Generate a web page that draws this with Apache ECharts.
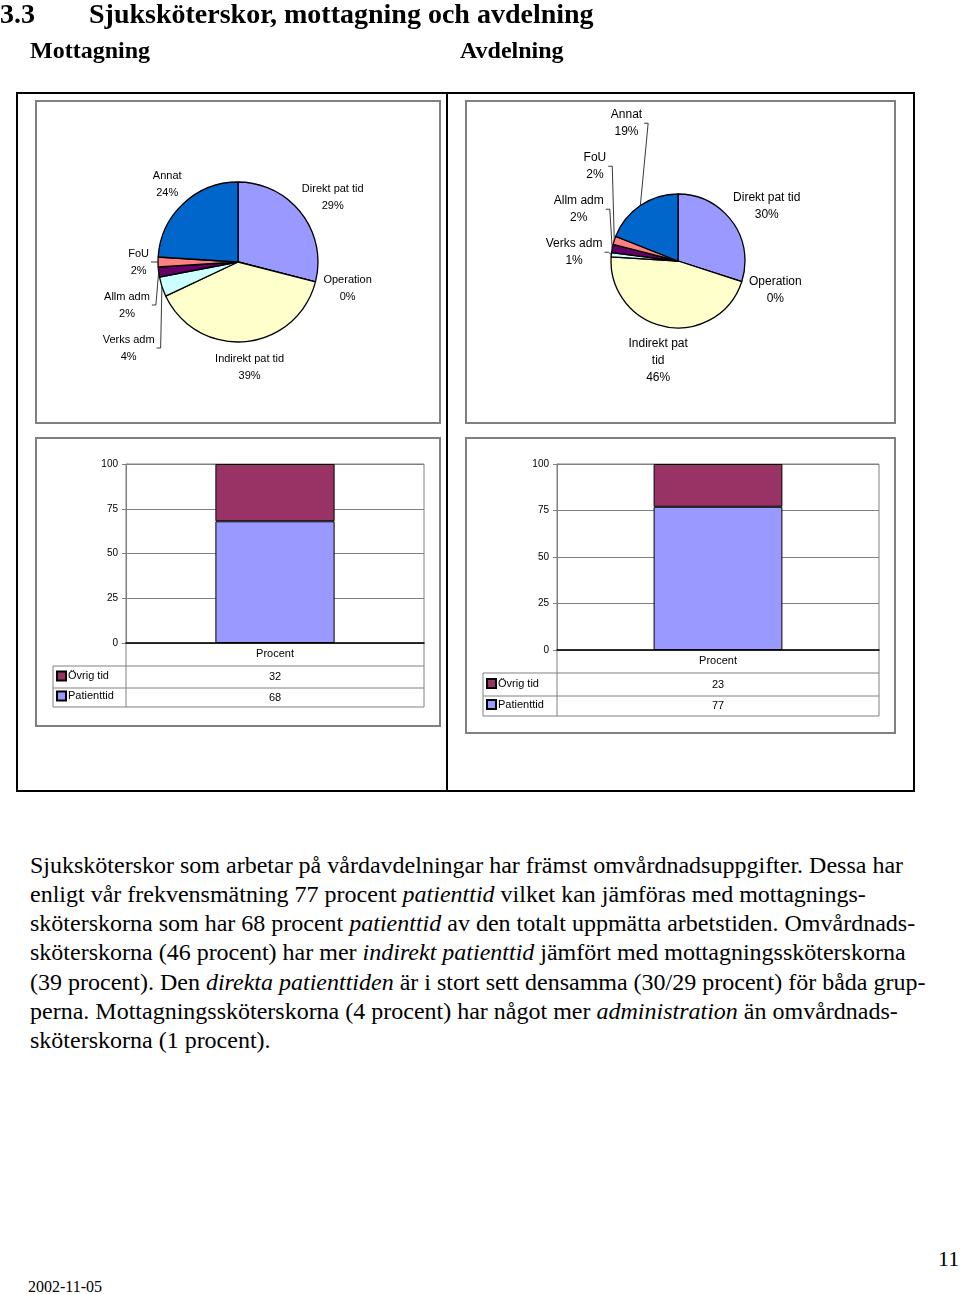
<!DOCTYPE html>
<html>
<head>
<meta charset="utf-8">
<script src="https://cdn.jsdelivr.net/npm/echarts@6/dist/echarts.min.js"></script>
<style>
  html, body { margin:0; padding:0; background:#fff; }
  body { width:960px; height:1294px; position:relative; overflow:hidden; }
  #chart { position:absolute; left:0; top:0; width:960px; height:800px; z-index:1; }
  .t { position:absolute; white-space:nowrap; font-family:'Liberation Serif','Times New Roman',serif; color:#000; line-height:1; z-index:2; transform-origin:0 0; }
  .h1 { font-weight:bold; font-size:28px; }
  .h2 { font-weight:bold; font-size:24px; }
  .p { font-size:24px; }
</style>
</head>
<body>
<div class="t h1" style="left:0;top:0;">3.3</div>
<div class="t h1" style="left:89px;top:0;">Sjuksköterskor, mottagning och avdelning</div>
<div class="t h2" style="left:30px;top:38px;">Mottagning</div>
<div class="t h2" style="left:460px;top:38px;">Avdelning</div>

<div class="t p" style="left:30px;top:853px;">Sjuksköterskor som arbetar på vårdavdelningar har främst omvårdnadsuppgifter. Dessa har</div>
<div class="t p" style="left:30px;top:882px;">enligt vår frekvensmätning 77 procent <i>patienttid</i> vilket kan jämföras med mottagnings-</div>
<div class="t p" style="left:30px;top:911px;">sköterskorna som har 68 procent <i>patienttid</i> av den totalt uppmätta arbetstiden. Omvårdnads-</div>
<div class="t p" style="left:30px;top:940px;">sköterskorna (46 procent) har mer <i>indirekt patienttid</i> jämfört med mottagningssköterskorna</div>
<div class="t p" style="left:30px;top:970px;">(39 procent). Den <i>direkta patienttiden</i> är i stort sett densamma (30/29 procent) för båda grup-</div>
<div class="t p" style="left:30px;top:999px;">perna. Mottagningssköterskorna (4 procent) har något mer <i>administration</i> än omvårdnads-</div>
<div class="t p" style="left:30px;top:1028px;">sköterskorna (1 procent).</div>

<div class="t" style="left:938px;top:1248px;font-size:22px;">11</div>
<div class="t" style="left:28px;top:1279px;font-size:16px;">2002-11-05</div>

<div id="chart"></div>
<script>
// ---------- data ----------
var pieCategories = ['Direkt pat tid', 'Operation', 'Indirekt pat tid', 'Verks adm', 'Allm adm', 'FoU', 'Annat'];
var pieMottagning = [29, 0, 39, 4, 2, 2, 24];
var pieAvdelning  = [30, 0, 46, 1, 2, 2, 19];
var barCategories = ['Procent'];
var barSeriesNames = ['Patienttid', 'Övrig tid'];
var patienttidMottagning = [68];
var ovrigTidMottagning   = [32];
var patienttidAvdelning  = [77];
var ovrigTidAvdelning    = [23];
var yTicks = [0, 25, 50, 75, 100];

// ---------- styles ----------
var pieColors = ['#9999FF', '#993366', '#FFFFCC', '#CCFFFF', '#660066', '#FF8080', '#0066CC'];
var FONT = 'Liberation Sans';
var GRAY = '#808080';
var LABEL_GAP = 9, LABEL_SEP = 9;

var graphics = [];

function labelText(name, value, wrapMap) {
  var n = (wrapMap && wrapMap[name]) || name;
  return n + '\n' + value + '%';
}

// Excel-like outside label placement: box just outside the rim along mid-angle,
// then stacked per side to avoid overlaps.
function computePieLabels(values, r, fontSize, lineH, wrapMap, shiftDir) {
  var ctx = document.createElement('canvas').getContext('2d');
  ctx.font = fontSize + 'px "' + FONT + '"';
  var total = values.reduce(function (a, b) { return a + b; }, 0);
  var cum = 0, items = [];
  values.forEach(function (v, i) {
    var mid = (cum + v / 2) / total * 2 * Math.PI;
    cum += v;
    var dx = Math.sin(mid), dy = -Math.cos(mid);
    var lines = labelText(pieCategories[i], v, wrapMap).split('\n');
    var w = Math.max.apply(null, lines.map(function (s) { return ctx.measureText(s).width; }));
    var h = lines.length * lineH;
    var ox = dx * (r + LABEL_GAP) + dx * w / 2;
    var oy = dy * (r + LABEL_GAP) + dy * h / 2;
    items.push({ i: i, v: v, dx: dx, dy: dy, ox: ox, oy: oy, oy0: oy, w: w, h: h, side: dx < 0 ? -1 : 1 });
  });
  [-1, 1].forEach(function (side) {
    var g = items.filter(function (it) { return it.side === side; });
    if (shiftDir === 'down') {
      g.sort(function (a, b) { return a.oy - b.oy; });
      for (var k = 1; k < g.length; k++) g[k].oy = Math.max(g[k].oy, g[k - 1].oy + (g[k - 1].h + g[k].h) / 2 + LABEL_SEP);
    } else {
      g.sort(function (a, b) { return b.oy - a.oy; });
      for (var k2 = 1; k2 < g.length; k2++) g[k2].oy = Math.min(g[k2].oy, g[k2 - 1].oy - (g[k2 - 1].h + g[k2].h) / 2 - LABEL_SEP);
    }
  });
  var out = [];
  items.forEach(function (it) { out[it.i] = it; });
  return out;
}

function pieSeries(values, center, radius, fontSize, wrapMap, shiftDir) {
  var lineH = 17;
  var lay = computePieLabels(values, radius, fontSize, lineH, wrapMap, shiftDir);
  // leader lines for small or displaced labels (label side edge -> short elbow -> rim at mid-angle)
  lay.forEach(function (it) {
    var moved = Math.abs(it.oy - it.oy0) > 3;
    if (!((it.v > 0 && it.v < 5) || moved)) return;
    var lcx = center[0] + it.ox, lcy = center[1] + it.oy;
    var edgeX = lcx - it.side * (it.w / 2 + 2);
    var elbowX = edgeX - it.side * 4;
    var rimX = center[0] + it.dx * radius, rimY = center[1] + it.dy * radius;
    graphics.push({
      type: 'polyline', silent: true, z: 10,
      shape: { points: [[edgeX, lcy], [elbowX, lcy], [rimX, rimY]] },
      style: { stroke: '#222', lineWidth: 0.9, fill: null }
    });
  });
  return {
    type: 'pie',
    center: center,
    radius: radius,
    startAngle: 90,
    clockwise: true,
    avoidLabelOverlap: false,
    animation: false,
    data: pieCategories.map(function (name, i) {
      return { name: name, value: values[i], itemStyle: { color: pieColors[i] } };
    }),
    itemStyle: { borderColor: '#000', borderWidth: 1.3 },
    label: {
      show: true,
      position: 'outside',
      color: '#000',
      fontFamily: FONT,
      fontSize: fontSize,
      lineHeight: lineH,
      align: 'center',
      formatter: function (p) { return labelText(p.name, p.value, wrapMap); }
    },
    labelLayout: function (params) {
      var it = lay[params.dataIndex];
      return { x: center[0] + it.ox, y: center[1] + it.oy, align: 'center', verticalAlign: 'middle' };
    },
    labelLine: { show: false },
    emphasis: { disabled: true }
  };
}

// bar layout constants
var B = [
  { left: 126, top: 464, width: 298, height: 179, tableLeft: 53, rows: [23, 22, 19] },
  { left: 557, top: 464, width: 322, height: 186, tableLeft: 483, rows: [23, 23, 20] }
];
var barData = [
  { pat: patienttidMottagning, ovr: ovrigTidMottagning },
  { pat: patienttidAvdelning, ovr: ovrigTidAvdelning }
];

var grids = [], xAxes = [], yAxes = [], series = [], legends = [];

B.forEach(function (b, gi) {
  grids.push({ left: b.left, top: b.top, width: b.width, height: b.height, show: true, borderColor: GRAY, borderWidth: 1, backgroundColor: 'transparent' });
  var r0 = b.rows[0], r1 = b.rows[1], r2 = b.rows[2];
  xAxes.push({
    gridIndex: gi, type: 'category', data: barCategories,
    axisLine: { show: true, lineStyle: { color: '#000', width: 1.5 } },
    axisTick: { show: false },
    axisLabel: { color: '#000', fontFamily: FONT, fontSize: 11, margin: 5 },
    z: 5
  });
  xAxes.push({
    gridIndex: gi, type: 'category', position: 'bottom', offset: r0,
    data: barData[gi].ovr.map(String),
    axisLine: { show: false }, axisTick: { show: false },
    axisLabel: { color: '#000', fontFamily: FONT, fontSize: 11, margin: (r1 - 13) / 2 + 1 }
  });
  xAxes.push({
    gridIndex: gi, type: 'category', position: 'bottom', offset: r0 + r1,
    data: barData[gi].pat.map(String),
    axisLine: { show: false }, axisTick: { show: false },
    axisLabel: { color: '#000', fontFamily: FONT, fontSize: 11, margin: (r2 - 13) / 2 + 1 }
  });
  yAxes.push({
    gridIndex: gi, type: 'value', min: yTicks[0], max: yTicks[yTicks.length - 1], interval: 25,
    axisLine: { show: true, lineStyle: { color: GRAY, width: 1 } },
    axisTick: { show: true, length: 4, lineStyle: { color: GRAY } },
    axisLabel: { color: '#000', fontFamily: FONT, fontSize: 10, margin: 8 },
    splitLine: { show: true, lineStyle: { color: GRAY, width: 1 } }
  });
  var xi = gi * 3;
  series.push({
    type: 'bar', name: barSeriesNames[0], xAxisIndex: xi, yAxisIndex: gi, stack: 's' + gi,
    data: barData[gi].pat, barWidth: '40%',
    itemStyle: { color: '#9999FF', borderColor: '#000', borderWidth: 1 }, animation: false
  });
  series.push({
    type: 'bar', name: barSeriesNames[1], xAxisIndex: xi, yAxisIndex: gi, stack: 's' + gi,
    data: barData[gi].ovr, barWidth: '40%',
    itemStyle: { color: '#993366', borderColor: '#000', borderWidth: 1 }, animation: false
  });
  legends.push({
    data: [barSeriesNames[1], barSeriesNames[0]],
    orient: 'vertical', left: b.tableLeft + 3, top: b.top + b.height + r0 + (r1 - 13) / 2,
    itemWidth: 9, itemHeight: 9, itemGap: r1 - 13, icon: 'rect', selectedMode: false,
    textStyle: { color: '#000', fontFamily: FONT, fontSize: 11, padding: [0, 0, 0, -3] },
    padding: 0
  });
  var bottom = b.top + b.height;
  var y1 = bottom + r0, y2 = y1 + r1, y3 = y2 + r2;
  var right = b.left + b.width;
  var ls = { stroke: GRAY, lineWidth: 1 };
  [[b.left, bottom, b.left, y3], [right, bottom, right, y3],
   [b.tableLeft, y1, b.tableLeft, y3],
   [b.tableLeft, y1, right, y1], [b.tableLeft, y2, right, y2], [b.tableLeft, y3, right, y3]
  ].forEach(function (l) {
    graphics.push({ type: 'line', shape: { x1: l[0], y1: l[1], x2: l[2], y2: l[3] }, style: ls, silent: true, z: 0 });
  });
});

function rect(x, y, w, h, stroke, lw) {
  return { type: 'rect', shape: { x: x, y: y, width: w, height: h }, style: { fill: 'none', stroke: stroke, lineWidth: lw }, silent: true, z: -1 };
}
graphics.push(rect(17, 93, 897, 698, '#000', 2));
graphics.push({ type: 'line', shape: { x1: 447, y1: 93, x2: 447, y2: 791 }, style: { stroke: '#000', lineWidth: 2 }, silent: true, z: -1 });
graphics.push(rect(36, 101, 404, 322, GRAY, 2));
graphics.push(rect(36, 438, 404, 288, GRAY, 2));
graphics.push(rect(466, 101, 429, 322, GRAY, 2));
graphics.push(rect(466, 438, 429, 295, GRAY, 2));

series.push(pieSeries(pieMottagning, [238, 262], 80, 11, null, 'down'));
series.push(pieSeries(pieAvdelning, [678, 261], 67, 12, { 'Indirekt pat tid': 'Indirekt pat\ntid' }, 'up'));

var chart = echarts.init(document.getElementById('chart'), null, { renderer: 'canvas' });
chart.setOption({
  animation: false,
  textStyle: { fontFamily: FONT },
  grid: grids,
  xAxis: xAxes,
  yAxis: yAxes,
  legend: legends,
  series: series,
  graphic: graphics
});
</script>
</body>
</html>
